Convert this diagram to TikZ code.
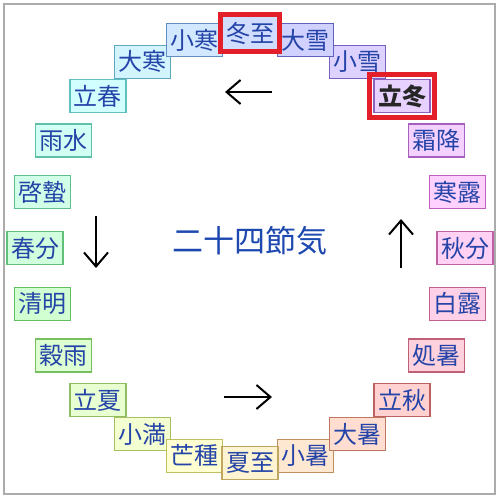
\documentclass[tikz,border=0pt]{standalone}
\usepackage{fontspec}
\newfontfamily\cjk{Noto Sans CJK JP}
\usetikzlibrary{arrows.meta}
\definecolor{txtblue}{HTML}{2444A8}
\definecolor{titleblue}{HTML}{1C48B0}
\definecolor{framegray}{HTML}{ABABAB}
\definecolor{markred}{HTML}{E3202A}
\newcommand\mkhsb[4]{\convertcolorspec{Hsb}{#2,#3,#4}{rgb}\mytmpc\definecolor{#1}{rgb}{\mytmpc}}
\begin{document}
\begin{tikzpicture}[x=1pt,y=-1pt,
  term/.style={draw, line width=1.1pt, minimum width=56pt, minimum height=33pt,
    inner sep=0pt, font=\cjk\fontsize{24}{24}\selectfont, text=txtblue},
  arr/.style={line width=2pt, -{Straight Barb[length=14pt,width=24pt,line width=2pt]}},
  redmark/.style={draw=markred, line width=5pt}]
\useasboundingbox (0,0) rectangle (499,500);
\fill[white] (0,0) rectangle (499,500);
\draw[framegray, line width=1.5pt] (4,4) rectangle (495,494);
\foreach \name/\ang/\id in {大寒/120/daikan, 小寒/105/shokan, 小雪/60/shosetsu, 大雪/75/taisetsu,
  立春/135/risshun, 雨水/150/usui, 啓蟄/165/keichitsu, 春分/180/shunbun, 清明/195/seimei,
  穀雨/210/kokuu, 立夏/225/rikka, 小満/240/shoman, 芒種/255/bosyu, 小暑/285/shosho,
  夏至/270/geshi, 大暑/300/taisho, 立秋/315/risshu, 処暑/330/shosho2, 白露/345/hakuro,
  秋分/0/shubun, 寒露/15/kanro, 霜降/30/soko} {
  \pgfmathtruncatemacro{\hue}{mod(315-\ang+720,360)}
  \mkhsb{tf}{\hue}{0.18}{1}
  \mkhsb{tb}{\hue}{0.5}{0.75}
  \node[term, fill=tf, draw=tb] (\id) at ({250+215*cos(\ang)},{248-215*sin(\ang)}) {\name};
}
% 立冬 (bold)
\mkhsb{rtf}{268}{0.18}{1}
\mkhsb{rtb}{268}{0.5}{0.75}
\node[term, fill=rtf, draw=rtb, text=black!85, font=\cjk\bfseries\fontsize{24}{24}\selectfont]
  (ritto) at ({250+215*cos(45)},{248-215*sin(45)}) {立冬};
% 冬至
\mkhsb{gtf}{225}{0.18}{1}
\node[term, fill=gtf, draw=markred] (toji) at (250,33) {冬至};
\draw[redmark] ([shift={(-1pt,-1pt)}]toji.south west) rectangle ([shift={(1pt,1pt)}]toji.north east);
\draw[redmark] ([shift={(-3.5pt,-4.5pt)}]ritto.south west) rectangle ([shift={(3.5pt,4.5pt)}]ritto.north east);
% title
\node[font=\cjk\fontsize{31}{31}\selectfont, text=titleblue] (title) at (250,241) {二十四節気};
% arrows
\coordinate (ta) at (272,92); \coordinate (tb) at (225,92);
\coordinate (ba) at (224,397); \coordinate (bb) at (272,397);
\coordinate (la) at (96,216); \coordinate (lb) at (96,268);
\coordinate (ra) at (401,268); \coordinate (rb) at (401,219);
\draw[arr] (ta) -- (tb);
\draw[arr] (ba) -- (bb);
\draw[arr] (la) -- (lb);
\draw[arr] (ra) -- (rb);
\end{tikzpicture}
\end{document}
